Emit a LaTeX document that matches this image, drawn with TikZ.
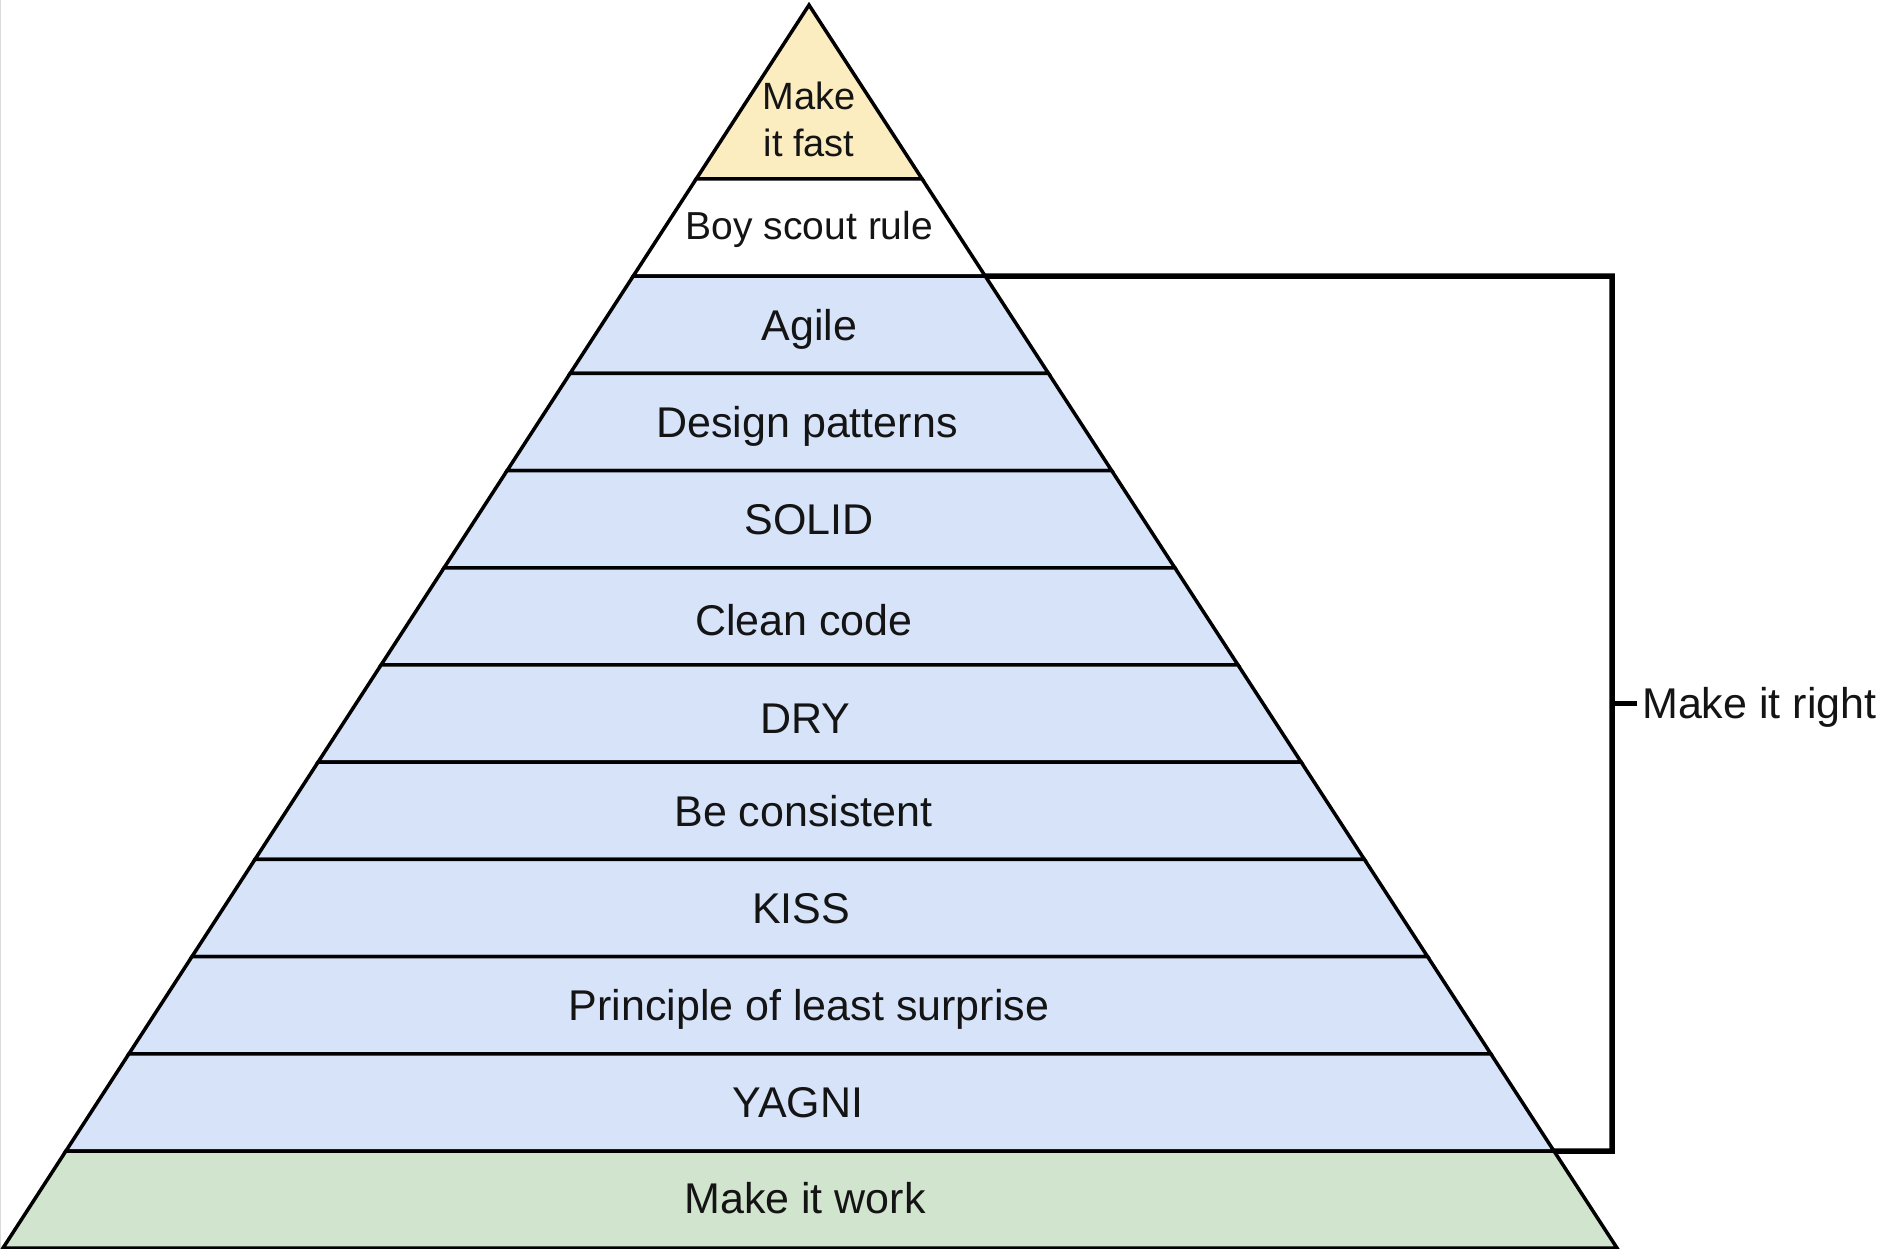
\documentclass[tikz,border=0pt]{standalone}
\usepackage{fontspec}
\setmainfont{Liberation Sans}
\usetikzlibrary{calc}
\definecolor{fastfill}{HTML}{FBEDC0}
\definecolor{rightfill}{HTML}{D6E3F9}
\definecolor{workfill}{HTML}{D1E4CE}
\definecolor{edgegray}{HTML}{DADADA}
\tikzset{
  band/.style={draw=black, line width=3.5pt, line join=miter},
  lbl/.style={inner sep=0pt, anchor=base, text=black!92, font=\fontsize{43}{52}\selectfont},
  smalllbl/.style={lbl, font=\fontsize{39}{47}\selectfont},
  bracketline/.style={draw=black, line width=5.5pt, line join=miter},
}
\begin{document}
\begin{tikzpicture}[x=1pt, y=-1pt]
\useasboundingbox (0,0) rectangle (1900,1248);
\fill[white] (0,0) rectangle (1900,1248);
\draw[edgegray, line width=2pt] (0,0) -- (0,1248);
% pyramid corners
\coordinate (apex) at (809,5);
\coordinate (bl) at (3,1248);
\coordinate (br) at (1617,1248);
\foreach \k in {0,...,10} {
  \pgfmathsetmacro\t{(174+97.2*\k)/1243}
  \coordinate (L\k) at ($(apex)!\t!(bl)$);
  \coordinate (R\k) at ($(apex)!\t!(br)$);
}
% bracket (drawn beneath the pyramid)
\coordinate (brtop) at (1612,276.2);
\coordinate (brbot) at (1612,1151);
\coordinate (tickA) at (1612,703);
\coordinate (tickB) at (1637,703);
\draw[bracketline] (R1) -- (brtop) -- (brbot) -- (R10);
\draw[draw=black, line width=5pt] (tickA) -- (tickB);
\node[lbl, anchor=base west] (right) at (1642,718) {Make it right};
% bands
\filldraw[band, fill=fastfill] (apex) -- (R0) -- (L0) -- cycle;
\filldraw[band, fill=white] (L0) -- (R0) -- (R1) -- (L1) -- cycle;
\foreach \k [evaluate=\k as \n using int(\k+1)] in {1,...,9} {
  \filldraw[band, fill=rightfill] (L\k) -- (R\k) -- (R\n) -- (L\n) -- cycle;
}
\filldraw[band, fill=workfill] (L10) -- (R10) -- (br) -- (bl) -- cycle;
% labels
\node[lbl, font=\fontsize{38}{47}\selectfont] (fast1) at (809,109) {Make};
\node[lbl, font=\fontsize{38}{47}\selectfont] (fast2) at (809,156) {it fast};
\node[smalllbl] (scout) at (809.5,239) {Boy scout rule};
\node[lbl] (agile) at (809.5,340) {Agile};
\node[lbl] (design) at (807,437.4) {Design patterns};
\node[lbl] (solid) at (809,534.6) {SOLID};
\node[lbl] (clean) at (804,635.5) {Clean code};
\node[lbl] (dry) at (805,733) {DRY};
\node[lbl] (consistent) at (803.5,826.2) {Be consistent};
\node[lbl] (kiss) at (801,923.4) {KISS};
\node[lbl] (surprise) at (809,1020.6) {Principle of least surprise};
\node[lbl] (yagni) at (798,1117.8) {YAGNI};
\node[lbl] (work) at (805,1213.5) {Make it work};
\end{tikzpicture}
\end{document}
